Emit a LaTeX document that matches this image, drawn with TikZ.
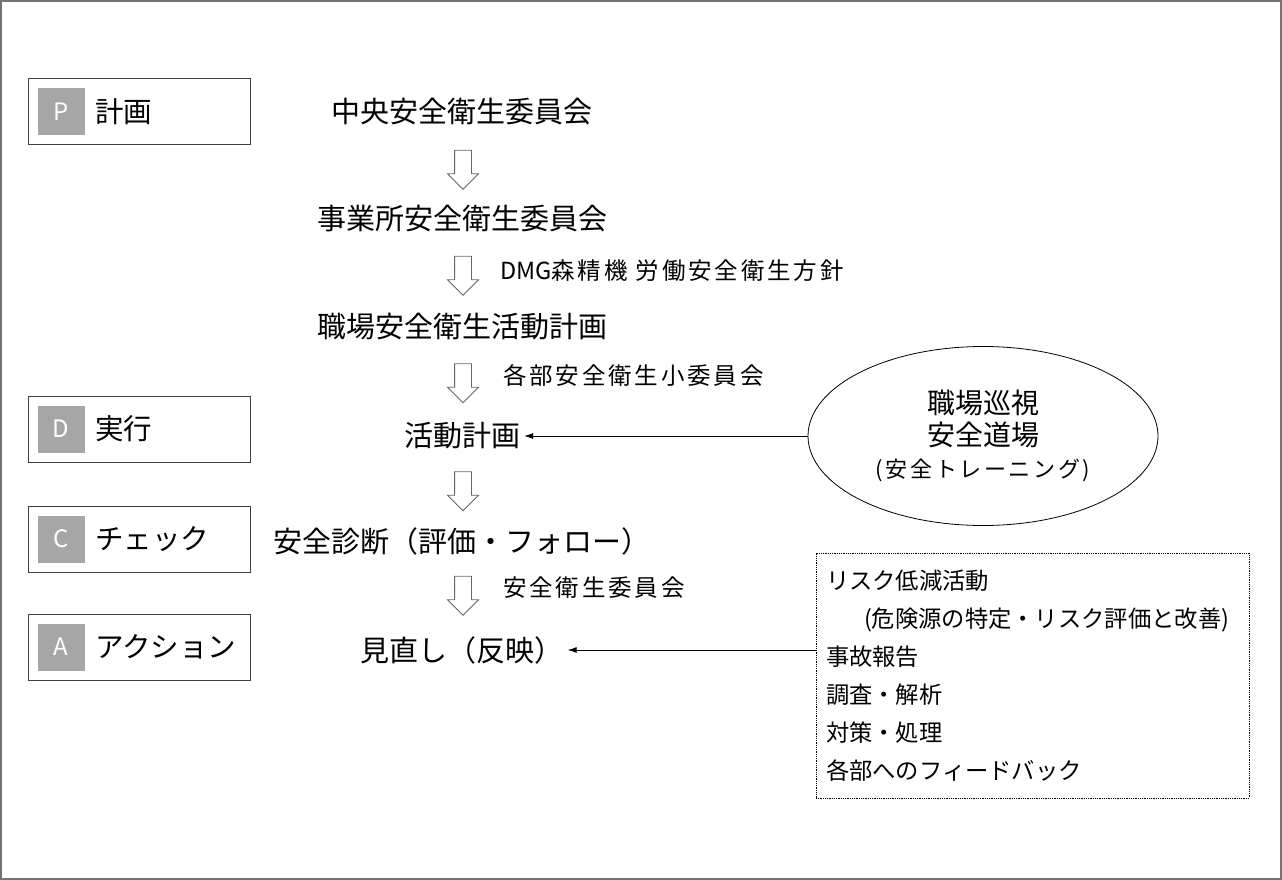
\documentclass[tikz,border=0pt]{standalone}
\usepackage{fontspec}
\setmainfont{Noto Sans CJK JP}
\newfontfamily\spacedfont[LetterSpace=12]{Noto Sans CJK JP}
\usetikzlibrary{shapes.geometric,shapes.arrows,arrows.meta}

\newcommand*{\colx}{462}
\newcommand*{\wmax}{1282}
\newcommand*{\hmax}{880}

\begin{document}
\begin{tikzpicture}
[
	x=1pt, y=-1pt,
	stage/.style={font=\fontsize{29}{32}\selectfont, inner sep=4pt},
	phasebox/.style={draw=black!75, line width=1pt, minimum width=222pt, minimum height=66pt},
	phasetag/.style={fill=black!35, text=white, minimum width=47pt, minimum height=47pt, inner sep=0pt, anchor=west, font=\fontsize{24}{24}\selectfont},
	phasename/.style={anchor=west, inner sep=0pt, font=\fontsize{28.5}{30}\selectfont},
	hollowarr/.style={single arrow, draw=black!60, line width=0.8pt, minimum height=39pt, minimum width=30pt, single arrow head extend=7pt, inner xsep=0pt, inner ysep=8pt, rotate=-90},
	note/.style={anchor=west, inner sep=0pt, font=\spacedfont\fontsize{23.5}{26}\selectfont},
	conn/.style={-{Latex[length=9pt,width=6pt]}, line width=0.8pt}
]

	% frame
	\useasboundingbox (0,0) rectangle (\wmax,\hmax);
	\draw[black!55, line width=2pt] (1,1) rectangle (\wmax-1,\hmax-1);

	% PDCA boxes
	\node[phasebox] (pbox) at (139,112) {};
	\node[phasetag] (ptag) at ([xshift=10pt]pbox.west) {P};
	\node[phasename] (pname) at ([xshift=10pt]ptag.east) {計画};

	\node[phasebox] (dbox) at (139,429) {};
	\node[phasetag] (dtag) at ([xshift=10pt]dbox.west) {D};
	\node[phasename] (dname) at ([xshift=10pt]dtag.east) {実行};

	\node[phasebox] (cbox) at (139,539) {};
	\node[phasetag] (ctag) at ([xshift=10pt]cbox.west) {C};
	\node[phasename] (cname) at ([xshift=10pt]ctag.east) {チェック};

	\node[phasebox] (abox) at (139,647) {};
	\node[phasetag] (atag) at ([xshift=10pt]abox.west) {A};
	\node[phasename] (aname) at ([xshift=10pt]atag.east) {アクション};

	% main flow
	\node[stage] (central) at (\colx,111) {中央安全衛生委員会};
	\node[stage] (office) at (\colx,218) {事業所安全衛生委員会};
	\node[stage] (plan) at (\colx,327) {職場安全衛生活動計画};
	\node[stage] (activity) at (\colx,436) {活動計画};
	\node[stage] (diagnosis) at (\colx,541) {安全診断（評価・フォロー）};
	\node[stage] (review) at (\colx,650) {見直し（反映）};

	\node[hollowarr] (arr1) at (463,165.5) {};
	\node[hollowarr] (arr2) at (463,271.5) {};
	\node[hollowarr] (arr3) at (463,379) {};
	\node[hollowarr] (arr4) at (463,487) {};
	\node[hollowarr] (arr5) at (463,591.5) {};

	\node[note] (policy) at (500,271) {{\rmfamily DMG}森精機 労働安全衛生方針};
	\node[note] (subcomm) at (503,376) {各部安全衛生小委員会};
	\node[note] (comm) at (503,588) {安全衛生委員会};

	% patrol and dojo
	\node[ellipse, draw, line width=0.8pt, minimum width=350pt, minimum height=179pt, inner sep=0pt, align=center, font=\fontsize{28}{32}\selectfont] (dojo) at (983,436)
		{職場巡視\\安全道場\\{\spacedfont\fontsize{22}{32}\selectfont (安全トレーニング)}};
	\draw[conn] (dojo.west) -- (activity.east);

	% risk activities
	\node[draw, densely dotted, line width=0.8pt, text width=413pt, inner xsep=10pt, minimum height=245pt, align=left, font=\fontsize{23.3}{38}\selectfont] (risk) at (1032.5,675.5)
		{リスク低減活動\\\hspace*{38pt}(危険源の特定・リスク評価と改善)\\事故報告\\調査・解析\\対策・処理\\各部へのフィードバック};
	\draw[conn] (risk.west |- review.east) -- (review.east);

\end{tikzpicture}
\end{document}
